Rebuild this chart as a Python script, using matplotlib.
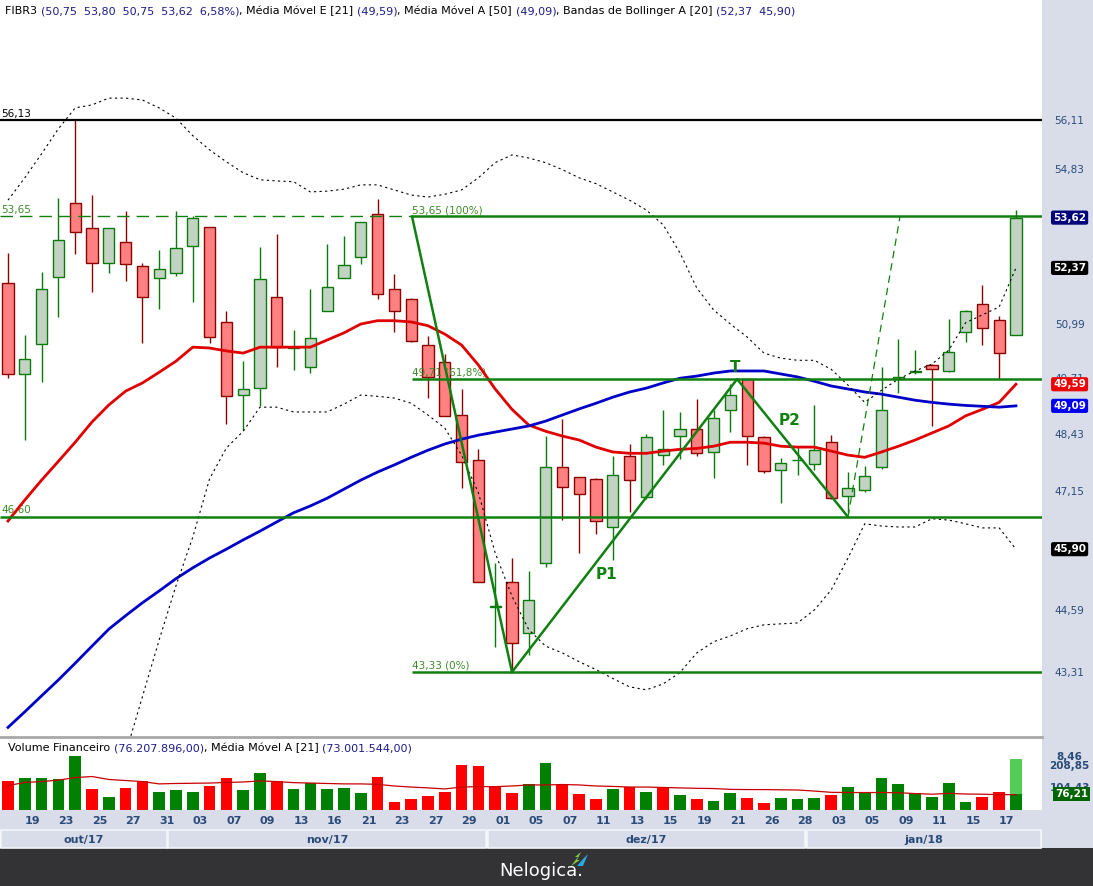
import matplotlib
matplotlib.use("Agg")
import matplotlib.pyplot as plt
from matplotlib.patches import Rectangle, Polygon
from matplotlib.ticker import NullLocator
import numpy as np

# ---------------------------------------------------------------- dados
days = ["18", "19", "20", "23", "24", "25", "26", "27", "30", "31",
        "01", "03", "06", "07", "08", "09", "10", "13", "14", "16", "17",
        "21", "22", "23", "24", "27", "28", "29", "30",
        "01", "04", "05", "06", "07", "08", "11", "12", "13", "14", "15",
        "18", "19", "20", "21", "22", "26", "27", "28",
        "02", "03", "04", "05", "08", "09", "10", "11", "12", "15", "16", "17", "18"]
months = ["out/17", "nov/17", "dez/17", "jan/18"]
month_first = [0, 10, 29, 48]

opens = [52.00, 49.83, 50.53, 52.14, 53.98, 53.35, 52.50, 53.00, 52.42, 52.12,
         52.24, 52.91, 53.39, 51.05, 49.33, 49.51, 51.67, 50.44, 50.00, 51.32,
         52.12, 52.63, 53.70, 51.85, 51.61, 50.50, 50.10, 48.89, 47.85, 44.67,
         45.20, 44.13, 45.60, 47.70, 47.49, 47.43, 46.38, 47.96, 47.03, 47.97,
         48.41, 48.57, 48.03, 48.99, 49.71, 48.38, 47.64, 47.85, 47.76, 48.27,
         47.06, 47.19, 47.70, 49.71, 49.87, 50.04, 49.90, 50.82, 51.49, 51.11,
         50.75]
highs = [52.75, 50.75, 52.27, 54.11, 56.13, 54.19, 53.35, 53.79, 52.49, 52.81,
         53.79, 53.66, 53.39, 51.33, 50.13, 52.88, 53.21, 50.87, 51.85, 52.97,
         53.16, 53.52, 54.09, 52.23, 51.63, 50.73, 50.30, 49.49, 48.10, 45.60,
         45.70, 45.43, 48.40, 48.78, 47.49, 47.46, 47.95, 48.22, 48.45, 48.99,
         48.94, 49.24, 48.99, 49.59, 49.71, 48.40, 47.90, 48.16, 49.10, 48.42,
         47.58, 47.73, 49.99, 50.65, 50.39, 50.06, 51.13, 51.35, 51.95, 51.21,
         53.80]
lows = [49.73, 48.31, 49.65, 51.17, 52.71, 51.77, 52.24, 52.04, 50.55, 51.38,
        52.18, 51.55, 50.55, 48.67, 48.54, 49.09, 50.00, 49.92, 49.86, 51.32,
        52.12, 52.46, 51.61, 50.81, 50.58, 49.28, 48.86, 47.23, 45.20, 43.85,
        43.33, 43.68, 45.52, 46.53, 45.81, 46.23, 45.67, 46.71, 47.00, 47.75,
        47.88, 47.95, 47.45, 48.50, 47.75, 47.57, 46.91, 47.53, 47.64, 47.00,
        46.68, 47.15, 47.65, 49.38, 49.84, 48.63, 49.88, 50.59, 50.51, 49.72,
        50.75]
closes = [49.84, 50.17, 51.85, 53.05, 53.27, 52.50, 53.35, 52.46, 51.66, 52.34,
          52.85, 53.60, 50.69, 49.31, 49.49, 52.10, 50.47, 50.46, 50.67, 51.91,
          52.44, 53.52, 51.73, 51.32, 50.60, 49.77, 48.86, 47.81, 45.20, 44.69,
          43.92, 44.82, 47.70, 47.25, 47.10, 46.50, 47.52, 47.41, 48.37, 48.10,
          48.57, 48.01, 48.82, 49.33, 48.41, 47.62, 47.80, 47.87, 48.08, 47.01,
          47.23, 47.51, 48.99, 49.77, 49.89, 49.94, 50.35, 51.33, 50.91, 50.33,
          53.62]

ema21 = [46.51, 46.97, 47.41, 47.83, 48.26, 48.72, 49.11, 49.43, 49.62, 49.87,
         50.13, 50.46, 50.44, 50.37, 50.32, 50.46, 50.46, 50.46, 50.46, 50.63,
         50.80, 51.01, 51.09, 51.09, 51.06, 50.97, 50.77, 50.51, 50.04, 49.48,
         49.01, 48.65, 48.51, 48.40, 48.31, 48.15, 48.04, 48.01, 48.01, 48.06,
         48.10, 48.12, 48.17, 48.26, 48.26, 48.24, 48.17, 48.15, 48.15, 48.06,
         47.97, 47.92, 48.04, 48.17, 48.31, 48.47, 48.63, 48.86, 49.01, 49.17,
         49.59]
sma50 = [42.22, 42.53, 42.85, 43.17, 43.51, 43.86, 44.21, 44.49, 44.76, 45.01,
         45.27, 45.50, 45.71, 45.90, 46.10, 46.29, 46.49, 46.69, 46.84, 47.01,
         47.21, 47.41, 47.59, 47.75, 47.92, 48.08, 48.22, 48.33, 48.42, 48.49,
         48.56, 48.63, 48.74, 48.88, 49.02, 49.15, 49.29, 49.41, 49.50, 49.62,
         49.73, 49.78, 49.85, 49.90, 49.90, 49.90, 49.83, 49.76, 49.66, 49.55,
         49.48, 49.41, 49.36, 49.29, 49.22, 49.17, 49.13, 49.10, 49.08, 49.06,
         49.09]
bb_upper = [54.06, 54.63, 55.25, 55.90, 56.45, 56.53, 56.71, 56.71, 56.66, 56.45,
            56.18, 55.72, 55.35, 55.04, 54.76, 54.58, 54.55, 54.53, 54.27, 54.29,
            54.34, 54.45, 54.45, 54.32, 54.19, 54.14, 54.21, 54.32, 54.63, 55.02,
            55.22, 55.14, 55.02, 54.84, 54.63, 54.48, 54.27, 54.06, 53.81, 53.44,
            52.74, 51.88, 51.35, 51.01, 50.70, 50.32, 50.20, 50.15, 50.15, 49.94,
            49.57, 49.17, 49.45, 49.71, 49.90, 50.06, 50.39, 51.04, 51.23, 51.42,
            52.37]
bb_lower = [37.00, 37.50, 38.20, 39.00, 39.80, 40.50, 41.00, 41.70, 42.83, 43.99,
            45.12, 46.16, 47.44, 48.13, 48.51, 49.06, 49.06, 48.95, 48.95, 48.95,
            49.13, 49.34, 49.31, 49.27, 49.15, 48.88, 48.58, 47.97, 47.13, 45.82,
            44.90, 44.20, 43.86, 43.72, 43.54, 43.38, 43.20, 43.03, 42.97, 43.09,
            43.32, 43.72, 43.95, 44.07, 44.22, 44.30, 44.32, 44.34, 44.61, 45.03,
            45.71, 46.45, 46.40, 46.38, 46.38, 46.56, 46.53, 46.45, 46.36, 46.36,
            45.90]

# volume financeiro em milhões
volume = [137.8, 152.0, 152.0, 147.0, 256.5, 99.8, 61.8, 104.5, 137.8, 85.5,
          95.0, 85.5, 114.0, 152.0, 95.0, 175.8, 137.8, 99.8, 126.7, 99.8,
          104.5, 80.8, 156.8, 38.0, 52.3, 66.5, 85.5, 213.8, 209.0, 114.0,
          80.8, 123.5, 223.0, 123.5, 76.0, 52.3, 99.8, 109.3, 85.5, 109.3,
          71.3, 52.3, 42.8, 80.8, 57.0, 33.3, 57.0, 52.3, 57.0, 71.3,
          109.3, 85.5, 152.0, 123.5, 80.8, 61.8, 128.3, 38.0, 61.8, 85.5,
          76.21]
vol_up = [0, 1, 1, 1, 1, 0, 1, 0, 0, 1, 1, 1, 0, 0, 1, 1, 0, 1, 1, 1,
          1, 1, 0, 0, 0, 0, 0, 0, 0, 0, 0, 1, 1, 0, 0, 0, 1, 0, 1, 0,
          1, 0, 1, 1, 0, 0, 1, 1, 1, 0, 1, 1, 1, 1, 1, 1, 1, 1, 0, 0, 1]
vol_projected = 242.0
vol_ma21 = [116, 131, 135, 142, 154, 159, 145, 140, 135, 124,
            126, 127, 128, 131, 133, 138, 135, 130, 128, 126,
            124, 124, 122, 114, 109, 105, 100, 109, 111, 111,
            114, 119, 119, 121, 119, 114, 112, 109, 109, 107,
            105, 103, 102, 98, 97, 97, 96, 95, 90, 84,
            83, 83, 83, 82, 78, 75, 79, 76, 75, 73, 73]

price_ticks = [56.11, 54.83, 50.99, 49.71, 48.43, 47.15, 44.59, 43.31]
vol_ticks = [208.85, 104.43]

# ferramentas de desenho (índice do candle, preço)
fibo_start = 24.05
fibo_levels = [53.65, 49.71, 43.33]
fibo_names = ["53,65 (100%)", "49,71 (61,8%)", "43,33 (0%)"]
resist = 56.13
support = 46.60
drop_line = ([24.05, 30.0], [53.65, 43.33])
pattern_line = ([30.0, 43.4, 50.0], [43.33, 49.71, 46.60])
proj_line = ([50.0, 53.1], [46.60, 53.65])
pattern_labels = [("T", 43.3, 49.99), ("P1", 35.6, 45.35), ("P2", 46.5, 48.76)]

# ---------------------------------------------------------------- estilo
W, H = 1093, 886
RED_FILL, RED_EDGE = "#ff8080", "#8b0000"
GRN_FILL, GRN_EDGE = "#c3d3c3", "#0a7a0a"
FIB = "#108010"
AXIS_BG = "#d8dde9"
TICK_C = "#2a4a7a"
NAVY = "#1c1c8c"
plt.rcParams["font.family"] = "DejaVu Sans"


def fx(px):
    return px / W


def fy(py):
    return 1 - py / H


fig = plt.figure(figsize=(W / 100, H / 100), dpi=100)
fig.patch.set_facecolor("white")

# faixas de fundo (eixo direito, datas, rodapé)
fig.add_artist(Rectangle((fx(1042), fy(848)), fx(51), fy(0) - fy(848),
                         transform=fig.transFigure, fc=AXIS_BG, ec="none", zorder=0))
fig.add_artist(Rectangle((0, fy(831)), fx(1042), fy(810) - fy(831),
                         transform=fig.transFigure, fc=AXIS_BG, ec="none", zorder=0))
fig.add_artist(Rectangle((0, 0), 1, fy(848), transform=fig.transFigure,
                         fc="#333336", ec="none", zorder=0))
fig.add_artist(plt.Line2D([0, fx(1042)], [fy(737), fy(737)], transform=fig.transFigure,
                          color="#a8a8a8", lw=2))

n = len(closes)
x = np.arange(n)
XMIN, XMAX = -0.476, 61.55

# ---------------------------------------------------------------- painel de preço
ax = fig.add_axes([0, fy(736), fx(1042), fy(0) - fy(736)])
ax.set_yscale("log")
ax.set_xlim(XMIN, XMAX)
ax.set_ylim(42.05, 59.38)
ax.yaxis.set_major_locator(NullLocator())
ax.yaxis.set_minor_locator(NullLocator())
ax.set_xticks([])
for s in ax.spines.values():
    s.set_visible(False)

o, h, l, c = map(np.array, (opens, highs, lows, closes))
up = c >= o
wick_c = [GRN_EDGE if u else RED_EDGE for u in up]
ax.vlines(x, l, h, colors=wick_c, lw=1, zorder=2)
body_lo = np.minimum(o, c)
body_h = np.maximum(np.abs(c - o), 0.005)
ax.bar(x, body_h, bottom=body_lo, width=0.66,
       color=[GRN_FILL if u else RED_FILL for u in up],
       edgecolor=wick_c, linewidth=1, zorder=3)

ax.plot(x, ema21, color="#e00000", lw=2, zorder=4)
ax.plot(x, sma50, color="#0000c8", lw=2, zorder=4)
ax.plot(x, bb_upper, color="black", lw=0.8, ls=(0, (2, 3)), zorder=4)
ax.plot(x, bb_lower, color="black", lw=0.8, ls=(0, (2, 3)), zorder=4)

# linhas horizontais
ax.hlines(resist, XMIN, XMAX, color="black", lw=1.6, zorder=5)
ax.hlines(support, XMIN, XMAX, color=FIB, lw=1.8, zorder=5)
ax.hlines(fibo_levels[0], XMIN, fibo_start, color=FIB, lw=1, ls=(0, (9, 5)), zorder=5)
ax.hlines(fibo_levels, fibo_start, XMAX, color=FIB, lw=1.8, zorder=5)

small = dict(fontsize=7.5, va="bottom", ha="left", textcoords="offset points")
ax.annotate("56,13", (XMIN + 0.1, resist), xytext=(0, 1), color="black", **small)
ax.annotate("53,65", (XMIN + 0.1, fibo_levels[0]), xytext=(0, 1), color="#3c8c28", **small)
ax.annotate("46,60", (XMIN + 0.1, support), xytext=(0, 1), color="#3c8c28", **small)
for lv, name in zip(fibo_levels, fibo_names):
    ax.annotate(name, (fibo_start, lv), xytext=(0, 1), color="#3c8c28", **small)

ax.plot(*drop_line, color=FIB, lw=1.8, zorder=5)
ax.plot(*pattern_line, color=FIB, lw=1.8, zorder=5)
ax.plot(*proj_line, color=FIB, lw=0.9, ls=(0, (6, 4)), zorder=5)
for txt, xi, yi in pattern_labels:
    ax.text(xi, yi, txt, color=FIB, fontsize=11, fontweight="bold",
            ha="center", va="center", zorder=6)

# cabeçalho com cores alternadas
head = [("FIBR3 ", "black"), ("(50,75  53,80  50,75  53,62  6,58%)", NAVY),
        (", Média Móvel E [21] ", "black"), ("(49,59)", NAVY),
        (", Média Móvel A [50] ", "black"), ("(49,09)", NAVY),
        (", Bandas de Bollinger A [20] ", "black"), ("(52,37  45,90)", NAVY)]
t = ax.text(0.005, (736 - 16) / 736, head[0][0], transform=ax.transAxes,
            color=head[0][1], fontsize=8, va="bottom", ha="left")
for txt, col in head[1:]:
    t = ax.annotate(txt, xy=(1, 0), xycoords=t, va="bottom", ha="left",
                    color=col, fontsize=8)

# eixo de preços à direita
ytr = ax.get_yaxis_transform()
for v in price_ticks:
    ax.text(1.0265, v, f"{v:.2f}".replace(".", ","), transform=ytr, clip_on=False,
            ha="center", va="center", fontsize=7.5, color=TICK_C)
boxes = [(closes[-1], "#00007a"), (bb_upper[-1], "black"), (ema21[-1], "#f00000"),
         (sma50[-1], "#0000f0"), (bb_lower[-1], "black")]
for v, fc in boxes:
    ax.text(1.0265, v, f"{v:.2f}".replace(".", ","), transform=ytr, clip_on=False,
            ha="center", va="center", fontsize=7.5, color="white", fontweight="bold",
            bbox=dict(boxstyle="round,pad=0.2", fc=fc, ec="none"), zorder=10)

# ---------------------------------------------------------------- painel de volume
axv = fig.add_axes([0, fy(810), fx(1042), fy(738) - fy(810)])
axv.set_xlim(XMIN, XMAX)
axv.set_ylim(0, 342)
axv.set_xticks([])
axv.set_yticks([])
for s in axv.spines.values():
    s.set_visible(False)

vcol = ["#008000" if u else "#ff0000" for u in vol_up]
axv.bar(x[-1], vol_projected, width=0.7, color="#55cc55", zorder=2)
axv.bar(x, volume, width=0.7, color=vcol, zorder=3)
axv.plot(x, vol_ma21, color="#c80000", lw=0.9, zorder=4)

vt = axv.text(0.008, 0.86, "Volume Financeiro ", transform=axv.transAxes,
              fontsize=8, va="center", ha="left")
for txt, col in [("(76.207.896,00)", NAVY), (", Média Móvel A [21] ", "black"),
                 ("(73.001.544,00)", NAVY)]:
    vt = axv.annotate(txt, xy=(1, 0), xycoords=vt, va="bottom", ha="left",
                      color=col, fontsize=8)

vtr = axv.get_yaxis_transform()
axv.text(1.0265, 252, "8,46", transform=vtr, clip_on=False, ha="center",
         va="center", fontsize=7.5, color=TICK_C, fontweight="bold")
for v in vol_ticks:
    axv.text(1.0265, v, f"{v:.2f}".replace(".", ","), transform=vtr, clip_on=False,
             ha="center", va="center", fontsize=7.5, color=TICK_C, fontweight="bold")
axv.text(1.0285, volume[-1], f"{volume[-1]:.2f}".replace(".", ","), transform=vtr,
         clip_on=False, ha="center", va="center", fontsize=7.5, color="white",
         fontweight="bold", bbox=dict(boxstyle="square,pad=0.2", fc="#006400", ec="none"))

# datas (a cada dois pregões) e faixas de mês
xtr = axv.get_xaxis_transform()
for i in range(1, n, 2):
    axv.text(i, -0.15, days[i], transform=xtr, clip_on=False, ha="left",
             va="center", fontsize=8, fontweight="bold", color=TICK_C)
edges = [m - 0.5 for m in month_first] + [XMAX]
for k, name in enumerate(months):
    x0, x1 = max(edges[k], XMIN), edges[k + 1]
    axv.add_patch(Rectangle((x0 + 0.05, -0.53), x1 - x0 - 0.1, 0.25, transform=xtr,
                            fc=AXIS_BG, ec="#f3f5fa", lw=1.2, clip_on=False))
    axv.text((x0 + x1) / 2, -0.41, name, transform=xtr, clip_on=False, ha="center",
             va="center", fontsize=8, fontweight="bold", color=TICK_C)

# rodapé Nelogica
fig.text(fx(541), fy(871), "Nelogica.", color="white", fontsize=13,
         ha="center", va="center")
fig.add_artist(Polygon([(fx(571), fy(866)), (fx(578), fy(857)), (fx(575), fy(857)),
                        (fx(581), fy(852)), (fx(577), fy(860)), (fx(580), fy(860))],
                       closed=True, transform=fig.transFigure, fc="#7ccc3c", ec="none"))
fig.add_artist(Polygon([(fx(577), fy(866)), (fx(584), fy(858)), (fx(588), fy(854)),
                        (fx(583), fy(866))],
                       closed=True, transform=fig.transFigure, fc="#2aa8e0", ec="none"))

fig.savefig("out.png", dpi=100)
